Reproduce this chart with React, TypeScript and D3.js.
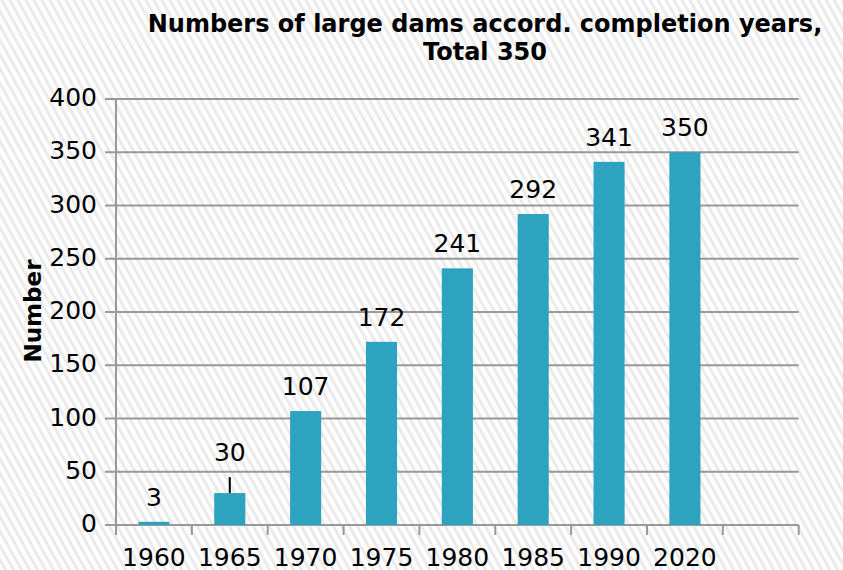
import React from 'react'
import * as d3 from 'd3'

const years = ['1960', '1965', '1970', '1975', '1980', '1985', '1990', '2020']
const dams = [3, 30, 107, 172, 241, 292, 341, 350]
const whiskerTop = [null, 45, null, null, null, null, null, null]
const yTicks = [0, 50, 100, 150, 200, 250, 300, 350, 400]
const titleLines = ['Numbers of large dams accord. completion years,', 'Total 350']
const yTitle = 'Number'

const width = 843
const height = 570
const font = '"DejaVu Sans", Verdana, sans-serif'

// one empty slot after 2020, like the original axis
const slots = [...years, '']

const x = d3.scaleBand().domain(slots).range([116, 798.7]).padding(0)
const y = d3.scaleLinear().domain([0, 400]).range([525, 99])
const barW = x.bandwidth() * 0.41

export default function App() {
	const bounds = slots.map((_, i) => x.range()[0] + i * x.step()).concat(x.range()[1])

	return (
		<svg width={width} height={height} style={{ display: 'block', position: 'absolute', left: 0, top: 0 }}>
			<defs>
				<pattern id="hatch" width="7" height="20" patternUnits="userSpaceOnUse" patternTransform="rotate(-29)">
					<rect width="7" height="20" fill="#fff" />
					<line x1="1.5" y1="0" x2="1.5" y2="20" stroke="#ebebeb" strokeWidth="3" />
				</pattern>
			</defs>
			<rect width={width} height={height} fill="url(#hatch)" />

			{/* grid */}
			{yTicks.map(t => (
				<line key={t} x1={105} x2={x.range()[1]} y1={y(t)} y2={y(t)} stroke="#999" strokeWidth={2} />
			))}
			<line x1={116} x2={116} y1={y(400)} y2={y(0) + 10} stroke="#999" strokeWidth={2} />
			{bounds.map((b, i) => (
				<line key={i} x1={b} x2={b} y1={y(0)} y2={y(0) + 10} stroke="#999" strokeWidth={2} />
			))}

			{/* bars */}
			{dams.map((d, i) => {
				const cx = x(years[i])! + x.bandwidth() / 2
				const top = whiskerTop[i] != null ? y(whiskerTop[i]!) : y(d)
				return (
					<g key={years[i]}>
						<rect x={cx - barW / 2} y={y(d)} width={barW} height={y(0) - y(d)} fill="#2ea3c0" />
						{whiskerTop[i] != null && (
							<line x1={cx} x2={cx} y1={y(whiskerTop[i]!)} y2={y(d)} stroke="#000" strokeWidth={2} />
						)}
						<text x={cx} y={top - 16} textAnchor="middle" fontFamily={font} fontSize={25} fill="#000">
							{d}
						</text>
					</g>
				)
			})}

			{/* y tick labels */}
			{yTicks.map(t => (
				<text key={t} x={97} y={y(t) + 7} textAnchor="end" fontFamily={font} fontSize={25} fill="#000">
					{t}
				</text>
			))}

			{/* x tick labels */}
			{years.map(yr => (
				<text key={yr} x={x(yr)! + x.bandwidth() / 2} y={566} textAnchor="middle" fontFamily={font} fontSize={25} fill="#000">
					{yr}
				</text>
			))}

			{/* titles */}
			{titleLines.map((l, i) => (
				<text key={i} x={485} y={32 + i * 28} textAnchor="middle" fontFamily={font} fontWeight="bold" fontSize={24} fill="#000">
					{l}
				</text>
			))}
			<text transform="translate(41,311) rotate(-90)" textAnchor="middle" fontFamily={font} fontWeight="bold" fontSize={23} fill="#000">
				{yTitle}
			</text>
		</svg>
	)
}
